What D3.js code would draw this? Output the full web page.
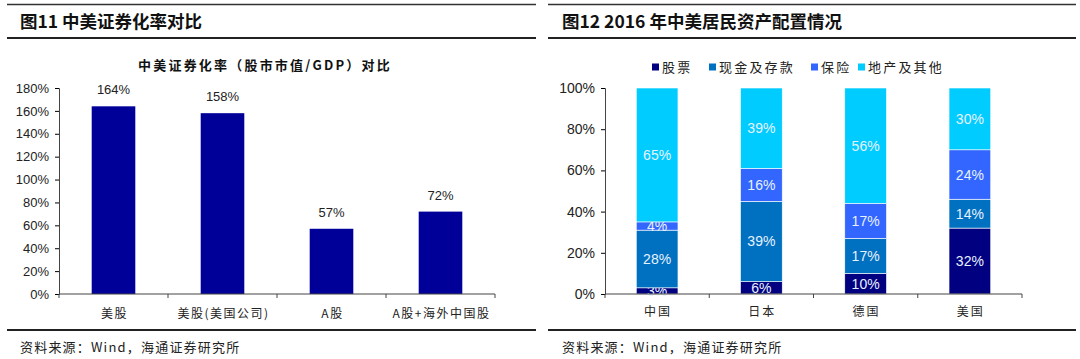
<!DOCTYPE html>
<html>
<head>
<meta charset="utf-8">
<script src="https://cdn.jsdelivr.net/npm/d3@7"></script>
<style>
  body { margin: 0; background: #fff; }
  svg { display: block; }
</style>
</head>
<body>
<svg id="chart"></svg>
<script>
// Left chart data
const secCategories = ["美股", "美股(美国公司)", "A股", "A股+海外中国股"];
const secValues = [164, 158, 57, 72];
const secTicks = [0, 20, 40, 60, 80, 100, 120, 140, 160, 180];

// Right chart data
const assetCountries = ["中国", "日本", "德国", "美国"];
const assetSeries = ["股票", "现金及存款", "保险", "地产及其他"];
const stockShare = [3, 6, 10, 32];
const cashShare = [28, 39, 17, 14];
const insuranceShare = [4, 16, 17, 24];
const propertyShare = [65, 39, 56, 30];
const assetTicks = [0, 20, 40, 60, 80, 100];

const cjk = "'Noto Sans CJK SC', sans-serif";
const latin = "'Liberation Sans', Arial, sans-serif";

const svg = d3.select("#chart")
    .attr("width", 1080)
    .attr("height", 359);

// Frame: rules, titles, sources for both panels
function frame(x0, x1, title, tx) {
    const g = svg.append("g");
    g.append("line").attr("x1", x0).attr("x2", x1).attr("y1", 4.5).attr("y2", 4.5)
        .attr("stroke", "#333").attr("stroke-width", 1.5);
    g.append("line").attr("x1", x0).attr("x2", x1).attr("y1", 38).attr("y2", 38)
        .attr("stroke", "#222").attr("stroke-width", 2);
    g.append("line").attr("x1", x0).attr("x2", x1).attr("y1", 330).attr("y2", 330)
        .attr("stroke", "#222").attr("stroke-width", 2);
    g.append("text").attr("x", tx).attr("y", 28)
        .attr("font-family", cjk).attr("font-weight", "bold").attr("font-size", 17.5)
        .attr("fill", "#111").text(title);
    g.append("text").attr("x", tx).attr("y", 352)
        .attr("font-family", cjk).attr("font-size", 13).attr("letter-spacing", 1.2)
        .attr("fill", "#222").text("资料来源：Wind，海通证券研究所");
}
frame(7, 536, "图11 中美证券化率对比", 20);
frame(548, 1076, "图12 2016 年中美居民资产配置情况", 562);

// ---------- Left chart ----------
const x1 = d3.scaleBand().domain(secCategories).range([59, 495]).paddingInner(0.6).paddingOuter(0.3);
const y1 = d3.scaleLinear().domain([0, 180]).range([294, 88]);

svg.append("text")
    .attr("x", 265).attr("y", 70)
    .attr("text-anchor", "middle")
    .attr("font-family", cjk).attr("font-weight", "bold").attr("font-size", 13)
    .attr("letter-spacing", 2.2)
    .attr("fill", "#111")
    .text("中美证券化率（股市市值/GDP）对比");

svg.selectAll(".secBar")
    .data(secValues)
    .enter()
    .append("rect")
    .attr("x", (d, i) => x1(secCategories[i]))
    .attr("y", d => y1(d))
    .attr("width", x1.bandwidth())
    .attr("height", d => y1(0) - y1(d))
    .attr("fill", "#000099");

svg.selectAll(".secLabel")
    .data(secValues)
    .enter()
    .append("text")
    .attr("x", (d, i) => x1(secCategories[i]) + x1.bandwidth() / 2)
    .attr("y", d => y1(d) - 12)
    .attr("text-anchor", "middle")
    .attr("font-family", latin).attr("font-size", 13)
    .attr("fill", "#222")
    .text(d => d + "%");

const yAxis1 = svg.append("g")
    .attr("transform", "translate(59,0)")
    .call(d3.axisLeft(y1).tickValues(secTicks).tickFormat(d => d + "%").tickSize(4).tickSizeOuter(4));
yAxis1.selectAll("text").attr("font-family", latin).attr("font-size", 13).attr("fill", "#222").attr("dx", "-3");
yAxis1.select(".domain").attr("stroke", "#444");

// x axis with ticks at category boundaries
const xAxis1 = svg.append("g").attr("transform", "translate(0,294)");
xAxis1.append("line").attr("x1", 59).attr("x2", 495).attr("stroke", "#444");
const step1 = x1.step();
const bounds1 = d3.range(secCategories.length + 1).map(i => 59 + i * step1);
xAxis1.selectAll(".tk").data(bounds1).enter().append("line")
    .attr("x1", d => d).attr("x2", d => d).attr("y1", 0).attr("y2", 4).attr("stroke", "#444");
xAxis1.selectAll(".lb").data(secCategories).enter().append("text")
    .attr("x", d => x1(d) + x1.bandwidth() / 2 + 1)
    .attr("y", 24)
    .attr("text-anchor", "middle")
    .attr("font-family", cjk).attr("font-size", 12)
    .attr("letter-spacing", 1.5)
    .attr("fill", "#222")
    .text(d => d);

// ---------- Right chart ----------
const color = d3.scaleOrdinal().domain(assetSeries)
    .range(["#000080", "#0070C0", "#3366FF", "#00CCFF"]);

const rows = assetCountries.map((c, i) => ({
    country: c,
    "股票": stockShare[i],
    "现金及存款": cashShare[i],
    "保险": insuranceShare[i],
    "地产及其他": propertyShare[i]
}));
const stacked = d3.stack().keys(assetSeries)(rows);

const x2 = d3.scaleBand().domain(assetCountries).range([605, 1022]).paddingInner(0.6).paddingOuter(0.3);
const y2 = d3.scaleLinear().domain([0, 100]).range([294, 88]);

const layers = svg.selectAll(".layer")
    .data(stacked)
    .enter()
    .append("g")
    .attr("fill", d => color(d.key));

layers.selectAll("rect")
    .data(d => d)
    .enter()
    .append("rect")
    .attr("x", d => x2(d.data.country))
    .attr("y", d => y2(d[1]))
    .attr("width", x2.bandwidth())
    .attr("height", d => y2(d[0]) - y2(d[1]))
    .attr("stroke", "#fff")
    .attr("stroke-width", 0.6);

layers.selectAll("text")
    .data(d => d)
    .enter()
    .append("text")
    .attr("x", d => x2(d.data.country) + x2.bandwidth() / 2)
    .attr("y", d => y2((d[0] + d[1]) / 2) + 5)
    .attr("text-anchor", "middle")
    .attr("font-family", latin).attr("font-size", 14)
    .attr("fill", "#E8F2FF")
    .text(d => (d[1] - d[0]) + "%");

const yAxis2 = svg.append("g")
    .attr("transform", "translate(605,0)")
    .call(d3.axisLeft(y2).tickValues(assetTicks).tickFormat(d => d + "%").tickSize(4).tickSizeOuter(4));
yAxis2.selectAll("text").attr("font-family", latin).attr("font-size", 14).attr("fill", "#222").attr("dx", "-3");
yAxis2.select(".domain").attr("stroke", "#444");

const xAxis2 = svg.append("g").attr("transform", "translate(0,294)");
xAxis2.append("line").attr("x1", 605).attr("x2", 1022).attr("stroke", "#444");
const step2 = x2.step();
const bounds2 = d3.range(assetCountries.length + 1).map(i => 605 + i * step2);
xAxis2.selectAll(".tk").data(bounds2).enter().append("line")
    .attr("x1", d => d).attr("x2", d => d).attr("y1", 0).attr("y2", 4).attr("stroke", "#444");
xAxis2.selectAll(".lb").data(assetCountries).enter().append("text")
    .attr("x", d => x2(d) + x2.bandwidth() / 2 + 1)
    .attr("y", 22)
    .attr("text-anchor", "middle")
    .attr("font-family", cjk).attr("font-size", 12)
    .attr("letter-spacing", 2)
    .attr("fill", "#222")
    .text(d => d);

// Legend
const legendX = [652, 709, 811, 858];
const legend = svg.selectAll(".legend")
    .data(assetSeries)
    .enter()
    .append("g")
    .attr("transform", (d, i) => `translate(${legendX[i]},67)`);

legend.append("rect")
    .attr("x", 0).attr("y", -3.5)
    .attr("width", 7).attr("height", 7)
    .attr("fill", color);

legend.append("text")
    .attr("x", 10).attr("y", 5)
    .attr("font-family", cjk).attr("font-size", 13)
    .attr("letter-spacing", 2.2)
    .attr("fill", "#222")
    .text(d => d);
</script>
</body>
</html>
